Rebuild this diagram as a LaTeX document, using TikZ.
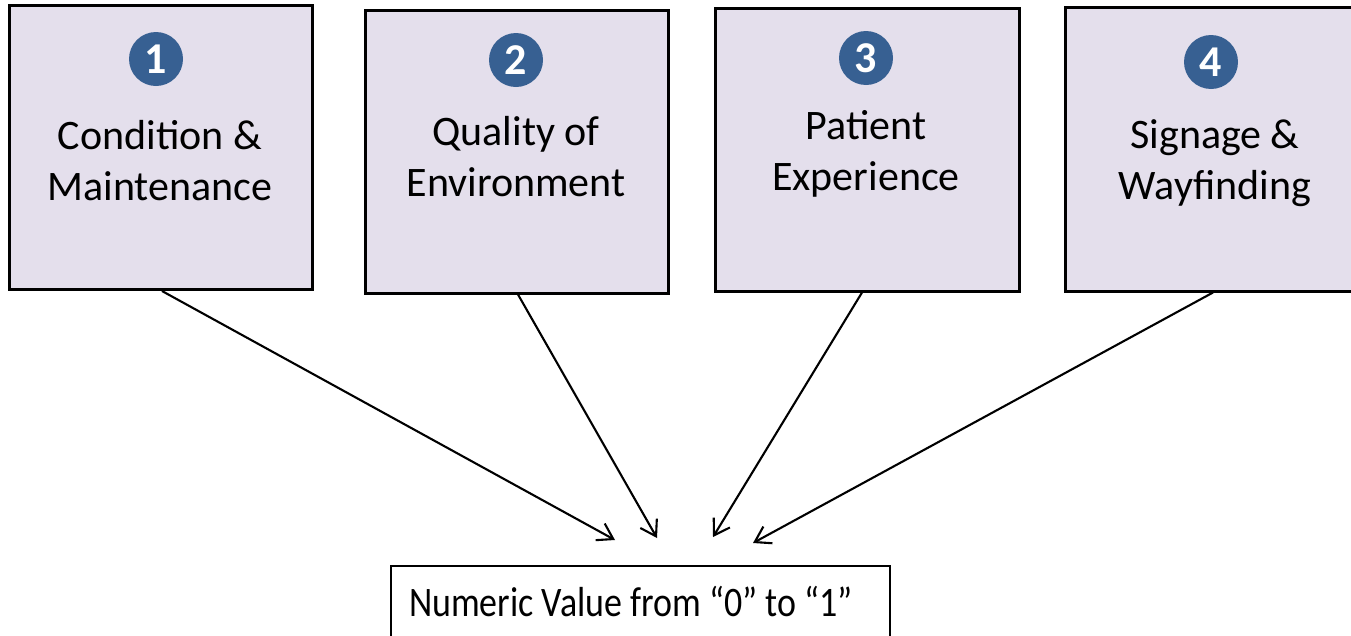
\documentclass[tikz,border=0pt]{standalone}
\usepackage{fontspec}
\usepackage{graphicx}
\setmainfont{Carlito}
\usetikzlibrary{arrows.meta}
\definecolor{boxfill}{HTML}{E4DFEC}
\definecolor{badge}{HTML}{376092}
\begin{document}
\begin{tikzpicture}[x=1pt,y=-1pt,
  factor/.style={draw=black,line width=3pt,fill=boxfill,rectangle,
    minimum width=303pt,minimum height=284pt,inner sep=0pt},
  numbadge/.style={circle,fill=badge,text=white,minimum size=54pt,inner sep=0pt,
    font=\fontsize{44}{44}\selectfont\bfseries},
  caption/.style={anchor=base,inner sep=0pt,font=\fontsize{42}{51}\selectfont},
  result/.style={draw=black,line width=2.2pt,fill=white,rectangle,
    minimum width=499pt,minimum height=114pt,inner sep=0pt},
  feed/.style={line width=2.1pt,-{Straight Barb[length=15pt,width=19pt,line width=2.1pt]}}]
\useasboundingbox (0,0) rectangle (1351,635);
\clip (0,0) rectangle (1351,635);

% four factor boxes
\node[factor] (b1) at (160.5,147.5) {};
\node[factor,minimum height=283pt] (b2) at (516.5,151.5) {};
\node[factor,minimum width=304pt,minimum height=283pt] (b3) at (867,149.5) {};
\node[factor] (b4) at (1216.5,149) {};

% numbered badges
\node[numbadge] (n1) at (156,59) {1};
\node[numbadge] (n2) at (516,60) {2};
\node[numbadge] (n3) at (866,58) {3};
\node[numbadge] (n4) at (1211,62) {4};

% box captions (anchored at the first baseline)
\node[caption] (c1) at (160,149) {\begin{tabular}[t]{@{}c@{}}Condition \&\\Maintenance\end{tabular}};
\node[caption] (c2) at (516,145) {\begin{tabular}[t]{@{}c@{}}Quality of\\Environment\end{tabular}};
\node[caption] (c3) at (866,139) {\begin{tabular}[t]{@{}c@{}}Patient\\Experience\end{tabular}};
\node[caption] (c4) at (1215,148) {\begin{tabular}[t]{@{}c@{}}Signage \&\\Wayfinding\end{tabular}};

% result box
\node[result] (r) at (640.5,623) {};
\node[caption] (rt) at (631,616) {\scalebox{0.856}[1]{Numeric Value from “0” to “1”}};

% arrow tips above the result box
\coordinate (t1) at (615,540);
\coordinate (t2) at (657,538);
\coordinate (t3) at (713,537);
\coordinate (t4) at (753,543);

\draw[feed] ([xshift=1.5pt]b1.south) -- (t1);
\draw[feed] ([xshift=1.5pt]b2.south) -- (t2);
\draw[feed] ([xshift=-5pt]b3.south) -- (t3);
\draw[feed] ([xshift=-3.5pt]b4.south) -- (t4);
\end{tikzpicture}
\end{document}
